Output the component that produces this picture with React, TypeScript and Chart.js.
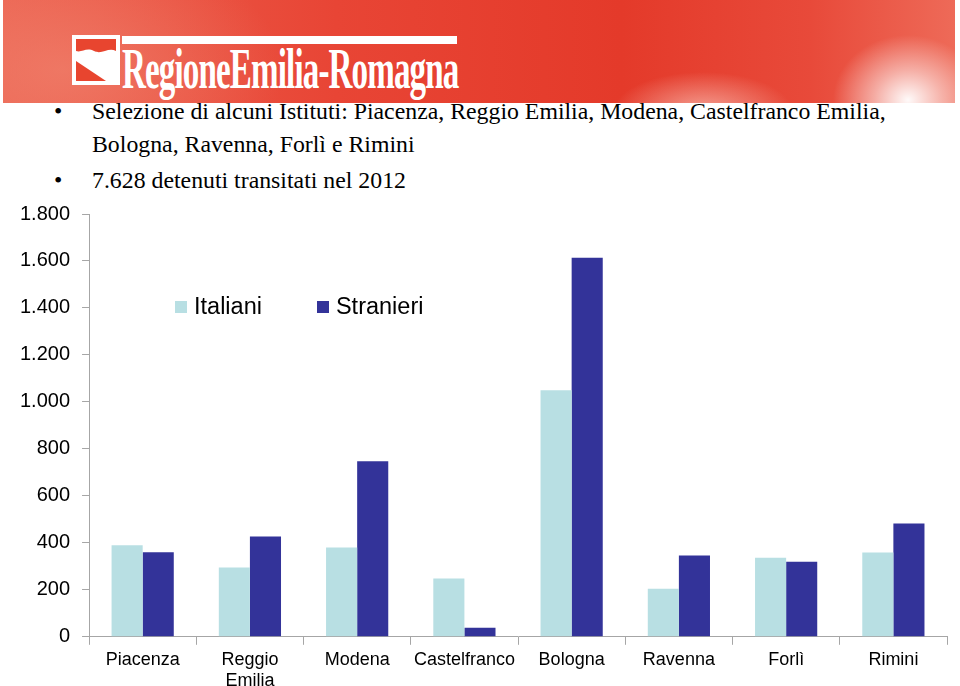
import React, { useEffect, useRef } from "react";
import { Chart, registerables } from "chart.js";

Chart.register(...registerables);

const categories: (string | string[])[] = [
  "Piacenza",
  ["Reggio", "Emilia"],
  "Modena",
  "Castelfranco",
  "Bologna",
  "Ravenna",
  "Forlì",
  "Rimini",
];
const italiani = [390, 295, 380, 248, 1050, 205, 337, 359];
const stranieri = [360, 427, 747, 38, 1614, 346, 320, 482];
const seriesNames = ["Italiani", "Stranieri"];
const seriesColors = ["#B8DFE3", "#333399"];
const bulletLines = [
  "Selezione di alcuni Istituti: Piacenza, Reggio Emilia, Modena, Castelfranco Emilia,",
  "Bologna, Ravenna, Forlì e Rimini",
  "7.628 detenuti transitati nel 2012",
];
const yMax = 1800;
const yStep = 200;

const fmt = (v: number) => String(v).replace(/\B(?=(\d{3})+(?!\d))/g, ".");

function ChartBox() {
  const ref = useRef<HTMLCanvasElement | null>(null);
  useEffect(() => {
    if (!ref.current) return;
    const chart = new Chart(ref.current, {
      type: "bar",
      data: {
        labels: categories,
        datasets: [
          { label: seriesNames[0], data: italiani, backgroundColor: seriesColors[0], categoryPercentage: 0.58, barPercentage: 1 },
          { label: seriesNames[1], data: stranieri, backgroundColor: seriesColors[1], categoryPercentage: 0.58, barPercentage: 1 },
        ],
      },
      options: {
        animation: false,
        responsive: false,
        maintainAspectRatio: false,
        layout: { padding: { top: 4, right: 13, bottom: 0, left: 8 } },
        plugins: { legend: { display: false }, tooltip: { enabled: false } },
        scales: {
          x: {
            offset: true,
            grid: { offset: true, drawOnChartArea: false, drawTicks: true, tickLength: 8, color: "#A6A6A6" },
            border: { color: "#A6A6A6" },
            ticks: { color: "#000", font: { family: "Liberation Sans, Arial", size: 18 }, padding: 4, maxRotation: 0, autoSkip: false },
          },
          y: {
            min: 0,
            max: yMax,
            ticks: { stepSize: yStep, color: "#000", font: { family: "Liberation Sans, Arial", size: 20 }, padding: 12, callback: (v: any) => fmt(Number(v)) },
            grid: { drawOnChartArea: false, drawTicks: true, tickLength: 7, color: "#A6A6A6" },
            border: { color: "#A6A6A6" },
          },
        },
      },
    });
    return () => chart.destroy();
  }, []);
  return <canvas ref={ref} width={960} height={506} style={{ position: "absolute", left: 0, top: 190, width: 960, height: 506 }} />;
}

export default function App() {
  return (
    <div style={{ position: "fixed", left: 0, top: 0, width: 960, height: 686, background: "#fff", overflow: "hidden" }}>
      <div
        style={{
          position: "absolute",
          left: 3,
          top: 0,
          width: 952,
          height: 103,
          background:
            "radial-gradient(ellipse 75px 65px at 905px 100px, rgba(255,255,255,0.97), rgba(255,255,255,0.5) 45%, rgba(255,255,255,0) 100%), radial-gradient(ellipse 90px 40px at 700px 112px, rgba(255,225,215,0.6), rgba(255,255,255,0)), radial-gradient(ellipse 220px 130px at 60px 70px, rgba(240,130,110,0.7), rgba(240,130,110,0)), linear-gradient(90deg, #EC6250 0%, #E84535 35%, #E43A2A 65%, #E84A3A 85%, #EE6A58 100%)",
        }}
      />
      {/* logo */}
      <div style={{ position: "absolute", left: 72, top: 35, width: 48, height: 50, background: "#fff" }}>
        <svg width={48} height={50} viewBox="0 0 48 50" style={{ display: "block" }}>
          <path d="M4 4 L44 4 L44 16 C36 12 30 20 22 16 C14 12 10 18 4 16 Z" fill="#E8452F" />
          <path d="M4 26 L34 46 L4 46 Z" fill="#E8452F" />
        </svg>
      </div>
      <div style={{ position: "absolute", left: 122, top: 36, width: 335, height: 8, background: "#fff" }} />
      <div
        style={{
          position: "absolute",
          left: 122,
          top: 35,
          fontFamily: "Liberation Serif, serif",
          fontWeight: "bold",
          fontSize: 58,
          lineHeight: "normal",
          color: "#fff",
          whiteSpace: "nowrap",
          transformOrigin: "0 0",
          transform: "scaleX(0.57)",
          letterSpacing: -1.5,
        }}
      >
        RegioneEmilia-Romagna
      </div>
      {/* bullets */}
      <div style={{ position: "absolute", left: 0, top: 0, width: 960, fontFamily: "Liberation Serif, serif", fontSize: 23.8, color: "#000", lineHeight: "28px", whiteSpace: "nowrap" }}>
        <div style={{ position: "absolute", left: 54, top: 97 }}>•</div>
        <div style={{ position: "absolute", left: 92, top: 97 }}>{bulletLines[0]}</div>
        <div style={{ position: "absolute", left: 92, top: 130 }}>{bulletLines[1]}</div>
        <div style={{ position: "absolute", left: 54, top: 166 }}>•</div>
        <div style={{ position: "absolute", left: 92, top: 166 }}>{bulletLines[2]}</div>
      </div>
      <ChartBox />
      {/* legend */}
      <div style={{ position: "absolute", left: 175, top: 293, display: "flex", alignItems: "center", fontFamily: "Liberation Sans, Arial", fontSize: 23.5, color: "#000" }}>
        <span style={{ width: 12, height: 12, background: seriesColors[0], display: "inline-block", marginRight: 7 }} />
        <span>{seriesNames[0]}</span>
        <span style={{ width: 12, height: 12, background: seriesColors[1], display: "inline-block", marginLeft: 55, marginRight: 7 }} />
        <span>{seriesNames[1]}</span>
      </div>
    </div>
  );
}
